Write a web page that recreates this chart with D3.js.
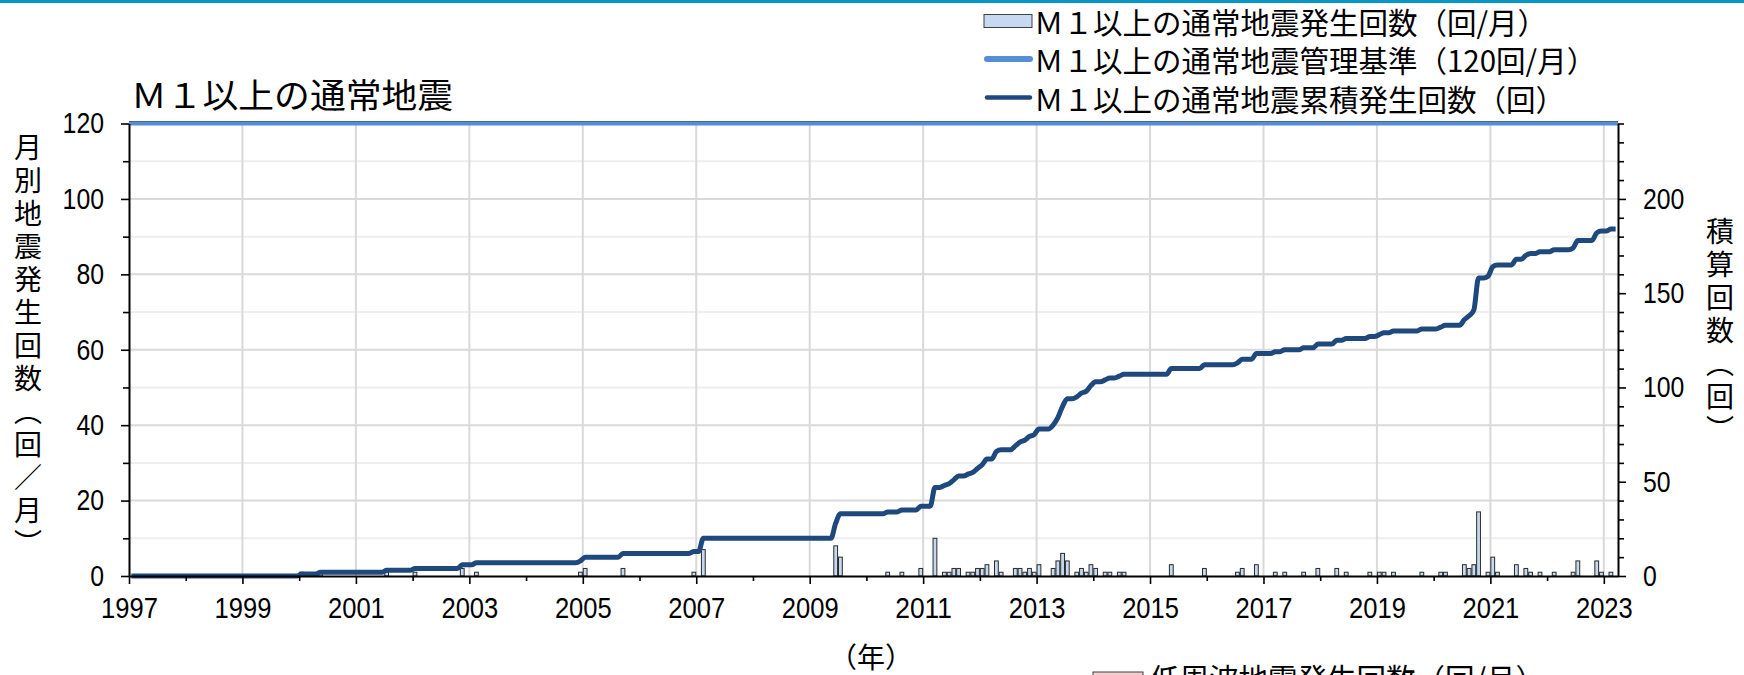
<!DOCTYPE html>
<html>
<head>
<meta charset="utf-8">
<script src="https://cdn.jsdelivr.net/npm/d3@7"></script>
<style>
  html, body { margin: 0; padding: 0; background: #fff; }
  svg { display: block; }
</style>
</head>
<body>
<svg id="chart" width="1744" height="675"></svg>
<script>
// Monthly counts of ordinary earthquakes (M1 and above), Jan 1997 – Mar 2023.
// Only months with events are listed; every other month is zero.
const eventMonths = [
  "2000-01","2000-05","2001-07","2002-01","2002-11","2003-02","2004-12","2005-01",
  "2005-09","2006-12","2007-02","2009-06","2009-07","2010-05","2010-08","2010-12",
  "2011-03","2011-05","2011-06","2011-07","2011-08","2011-10","2011-11","2011-12",
  "2012-01","2012-02","2012-04","2012-05","2012-08","2012-09","2012-10","2012-11",
  "2012-12","2013-01","2013-04","2013-05","2013-06","2013-07","2013-09","2013-10",
  "2013-11","2013-12","2014-01","2014-03","2014-04","2014-06","2014-07","2015-05",
  "2015-12","2016-07","2016-08","2016-11","2017-03","2017-05","2017-09","2017-12",
  "2018-04","2018-06","2018-11","2019-01","2019-02","2019-04","2019-10","2020-02",
  "2020-03","2020-07","2020-08","2020-09","2020-10","2020-12","2021-01","2021-02",
  "2021-06","2021-08","2021-09","2021-11","2022-02","2022-06","2022-07","2022-11",
  "2022-12","2023-02"
];
const eventCounts = [
  1,1,1,1,2,1,1,2,
  2,1,7,8,5,1,1,2,
  10,1,1,2,2,1,1,2,
  2,3,4,1,2,2,1,2,
  1,3,2,4,6,4,1,2,
  1,3,2,1,1,1,1,3,
  2,1,2,3,1,1,1,2,
  2,1,1,1,1,1,1,1,
  1,3,2,3,17,1,5,1,
  3,2,1,1,1,1,4,4,
  1,1
];
const firstMonth = "1997-01";
const lastMonth = "2023-03";

const yearTickLabels = [1997,1999,2001,2003,2005,2007,2009,2011,2013,2015,2017,2019,2021,2023];
const yearMinorTicks = [1998,2000,2002,2004,2006,2008,2010,2012,2014,2016,2018,2020,2022];
const leftTickValues = [0,20,40,60,80,100,120];
const leftMinorTicks = [10,30,50,70,90,110];
const rightTickValues = [0,50,100,150,200];
const rightMinorTicks = [10,20,30,40,60,70,80,90,110,120,130,140,160,170,180,190,210,220,230,240];
const thresholdValue = 120;

const titleText = "Ｍ１以上の通常地震";
const legendLabels = [
  "Ｍ１以上の通常地震発生回数（回/月）",
  "Ｍ１以上の通常地震管理基準（120回/月）",
  "Ｍ１以上の通常地震累積発生回数（回）"
];
const lowFreqLabel = "低周波地震発生回数（回/月）";
const leftTitleChars = ["月","別","地","震","発","生","回","数","︵","回","／","月","︶"];
const rightTitleChars = ["積","算","回","数","︵","回","︶"];
const xAxisTitle = "（年）";

// ---- build the full monthly series ----
function monthIndex(s) {
  const [y, m] = s.split("-").map(Number);
  return (y - 1997) * 12 + (m - 1);
}
const nMonths = monthIndex(lastMonth) - monthIndex(firstMonth) + 1;
const monthly = new Array(nMonths).fill(0);
eventMonths.forEach((m, i) => { monthly[monthIndex(m)] = eventCounts[i]; });
const cumulative = Array.from(d3.cumsum(monthly));
const series = monthly.map((v, i) => ({
  t: 1997 + (i + 0.5) / 12,
  count: v,
  total: cumulative[i]
}));

// ---- scales ----
const svg = d3.select("#chart");
const x = d3.scaleLinear().domain([1997, 2023.25]).range([129, 1618]);
const yL = d3.scaleLinear().domain([0, 120]).range([576, 123.5]);
const yR = d3.scaleLinear().domain([0, 240]).range([576, 123.5]);

const CJK = "'Noto Sans CJK JP', 'Noto Sans CJK SC', sans-serif";
const NUM = "'Liberation Sans Narrow', 'Liberation Sans', Arial, sans-serif";

// top rule
svg.append("rect").attr("x", 0).attr("y", 0).attr("width", 1744).attr("height", 3)
  .attr("fill", "#0896c4");

// ---- gridlines ----
const grid = svg.append("g");
grid.selectAll(".gminor").data(leftMinorTicks).join("line")
  .attr("x1", x(1997)).attr("x2", x(2023.25))
  .attr("y1", d => yL(d)).attr("y2", d => yL(d))
  .attr("stroke", "#eeeeee").attr("stroke-width", 2);
grid.selectAll(".gmajor").data(leftTickValues.filter(d => d > 0 && d < 120)).join("line")
  .attr("x1", x(1997)).attr("x2", x(2023.25))
  .attr("y1", d => yL(d)).attr("y2", d => yL(d))
  .attr("stroke", "#d9d9d9").attr("stroke-width", 2);
grid.selectAll(".gyear").data(yearTickLabels.filter(d => d > 1997)).join("line")
  .attr("x1", d => x(d)).attr("x2", d => x(d))
  .attr("y1", yL(0)).attr("y2", yL(120))
  .attr("stroke", "#d9d9d9").attr("stroke-width", 2);

// plot frame top edge
svg.append("line").attr("x1", x(1997)).attr("x2", x(2023.25))
  .attr("y1", yL(120) - 2).attr("y2", yL(120) - 2)
  .attr("stroke", "#404040").attr("stroke-width", 1);

// ---- monthly bars ----
const barW = 3.8;
svg.append("g").selectAll("rect").data(series.filter(d => d.count > 0)).join("rect")
  .attr("x", d => x(d.t) - barW / 2)
  .attr("y", d => yL(d.count))
  .attr("width", barW)
  .attr("height", d => yL(0) - yL(d.count))
  .attr("fill", "#c6d9f1")
  .attr("stroke", "#2b2b2b")
  .attr("stroke-width", 1);

// ---- cumulative line (right axis) ----
const line = d3.line().x(d => x(d.t)).y(d => yR(d.total)).curve(d3.curveMonotoneX);
svg.append("path").datum(series)
  .attr("d", line)
  .attr("fill", "none")
  .attr("stroke", "#1f497d")
  .attr("stroke-width", 5)
  .attr("stroke-linejoin", "round");

// ---- threshold line ----
svg.append("line")
  .attr("x1", x(1997)).attr("x2", x(2023.25))
  .attr("y1", yL(thresholdValue)).attr("y2", yL(thresholdValue))
  .attr("stroke", "#558ed5").attr("stroke-width", 4);

// ---- axes ----
function styleAxis(g, digitW) {
  g.select(".domain").attr("stroke", "#000").attr("stroke-width", 2);
  g.selectAll(".tick line").attr("stroke", "#000").attr("stroke-width", 1.6);
  g.selectAll(".tick text")
    .attr("fill", "#000")
    .style("font-family", NUM)
    .style("font-size", "29px")
    .attr("textLength", function () { return this.textContent.length * digitW; })
    .attr("lengthAdjust", "spacingAndGlyphs");
}

const gx = svg.append("g").attr("transform", `translate(0,${yL(0)})`)
  .call(d3.axisBottom(x).tickValues(yearTickLabels).tickFormat(d3.format("d"))
    .tickSize(8).tickSizeOuter(0).tickPadding(13));
styleAxis(gx, 14.2);
const gxm = svg.append("g").attr("transform", `translate(0,${yL(0)})`)
  .call(d3.axisBottom(x).tickValues(yearMinorTicks).tickFormat("").tickSize(5).tickSizeOuter(0));
gxm.select(".domain").remove();
gxm.selectAll(".tick line").attr("stroke", "#000").attr("stroke-width", 1.6);

const gl = svg.append("g").attr("transform", `translate(${x(1997)},0)`)
  .call(d3.axisLeft(yL).tickValues(leftTickValues).tickSize(8).tickSizeOuter(0).tickPadding(17));
styleAxis(gl, 13.8);
const glm = svg.append("g").attr("transform", `translate(${x(1997)},0)`)
  .call(d3.axisLeft(yL).tickValues(leftMinorTicks).tickFormat("").tickSize(6).tickSizeOuter(0));
glm.select(".domain").remove();
glm.selectAll(".tick line").attr("stroke", "#000").attr("stroke-width", 1.6);

const gr = svg.append("g").attr("transform", `translate(${x(2023.25)},0)`)
  .call(d3.axisRight(yR).tickValues(rightTickValues).tickSize(8).tickSizeOuter(0).tickPadding(17));
styleAxis(gr, 13.8);
const grm = svg.append("g").attr("transform", `translate(${x(2023.25)},0)`)
  .call(d3.axisRight(yR).tickValues(rightMinorTicks).tickFormat("").tickSize(6).tickSizeOuter(0));
grm.select(".domain").remove();
grm.selectAll(".tick line").attr("stroke", "#000").attr("stroke-width", 1.6);

// ---- titles ----
svg.append("text").text(titleText)
  .attr("x", 131).attr("y", 93).attr("dominant-baseline", "central")
  .style("font-family", CJK).style("font-size", "34px").attr("fill", "#000")
  .attr("textLength", 322).attr("lengthAdjust", "spacingAndGlyphs");

svg.append("g").selectAll("text").data(leftTitleChars).join("text")
  .text(d => d)
  .attr("x", 28).attr("y", (d, i) => 146 + i * 33)
  .attr("text-anchor", "middle").attr("dominant-baseline", "central")
  .style("font-family", CJK).style("font-size", "28px").attr("fill", "#000");

svg.append("g").selectAll("text").data(rightTitleChars).join("text")
  .text(d => d)
  .attr("x", 1720).attr("y", (d, i) => 230 + i * 33)
  .attr("text-anchor", "middle").attr("dominant-baseline", "central")
  .style("font-family", CJK).style("font-size", "28px").attr("fill", "#000");

svg.append("text").text(xAxisTitle)
  .attr("x", 871).attr("y", 656).attr("text-anchor", "middle").attr("dominant-baseline", "central")
  .style("font-family", CJK).style("font-size", "28px").attr("fill", "#000");

// ---- legend ----
const legendRows = [21, 59, 97.5];
const lg = svg.append("g");
lg.append("rect").attr("x", 984).attr("y", legendRows[0] - 6.5).attr("width", 48).attr("height", 13)
  .attr("fill", "#c6d9f1").attr("stroke", "#404040").attr("stroke-width", 1);
lg.append("line").attr("x1", 987).attr("x2", 1030).attr("y1", legendRows[1]).attr("y2", legendRows[1])
  .attr("stroke", "#558ed5").attr("stroke-width", 6).attr("stroke-linecap", "round");
lg.append("line").attr("x1", 987).attr("x2", 1030).attr("y1", legendRows[2]).attr("y2", legendRows[2])
  .attr("stroke", "#1f497d").attr("stroke-width", 4.5).attr("stroke-linecap", "round");
lg.selectAll("text").data(legendLabels).join("text")
  .text(d => d)
  .attr("x", 1034).attr("y", (d, i) => legendRows[i])
  .attr("dominant-baseline", "central")
  .style("font-family", CJK).style("font-size", "29.5px").attr("fill", "#000");

// second legend entry, cut by the bottom edge
svg.append("rect").attr("x", 1093).attr("y", 672).attr("width", 50).attr("height", 13)
  .attr("fill", "#f2d0d0").attr("stroke", "#404040").attr("stroke-width", 1);
svg.append("text").text(lowFreqLabel)
  .attr("x", 1150).attr("y", 677).attr("dominant-baseline", "central")
  .style("font-family", CJK).style("font-size", "29.5px").attr("fill", "#000");
</script>
</body>
</html>
